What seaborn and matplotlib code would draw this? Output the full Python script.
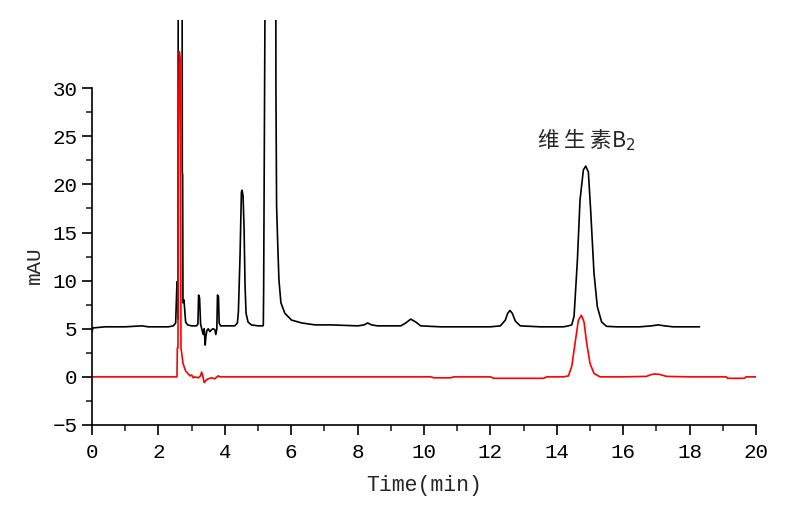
import numpy as np
import pandas as pd
import matplotlib
matplotlib.use("Agg")
import matplotlib.pyplot as plt
import seaborn as sns

# --- data (time in min, signal in mAU) ---
black_t = [0, 0.03, 0.08, 0.4, 1.0, 1.5, 1.7, 2.0, 2.3, 2.45, 2.52, 2.56, 2.58, 2.59,
           2.60, 2.60, 2.71, 2.72, 2.73, 2.74, 2.77, 2.82, 2.88, 3.0, 3.15, 3.19,
           3.21, 3.24, 3.27, 3.32, 3.35, 3.38, 3.41, 3.43, 3.46, 3.5, 3.55, 3.6,
           3.65, 3.7, 3.73, 3.76, 3.78, 3.81, 3.83, 3.87, 3.95, 4.1, 4.3, 4.38,
           4.41, 4.46, 4.5, 4.52, 4.55, 4.58, 4.61, 4.64, 4.7, 4.8, 5.0, 5.15,
           5.16, 5.17, 5.24, 5.53, 5.54, 5.56, 5.60, 5.63, 5.69, 5.81, 6.01, 6.32,
           6.72, 7.2, 8.0, 8.2, 8.3, 8.42, 8.6, 9.3, 9.45, 9.6, 9.75, 9.9, 10.5,
           11.0, 12.0, 12.3, 12.45, 12.52, 12.59, 12.66, 12.75, 12.9, 13.5, 14.2,
           14.35, 14.45, 14.52, 14.62, 14.70, 14.80, 14.87, 14.95, 15.02, 15.12,
           15.22, 15.35, 15.5, 15.8, 16.5, 16.85, 17.05, 17.25, 17.5, 18.3]
black_v = [4.7, 5.1, 5.1, 5.2, 5.2, 5.3, 5.2, 5.2, 5.2, 5.3, 5.6, 9.9, 9.8, 6.0,
           60, 60, 60, 21.2, 21.0, 7.7, 8.0, 5.7, 5.4, 5.3, 5.3, 5.5,
           8.5, 8.2, 5.5, 4.8, 4.4, 5.0, 3.3, 4.2, 4.8, 5.0, 4.7, 4.9,
           5.0, 4.9, 4.4, 5.0, 8.5, 8.3, 5.6, 5.3, 5.3, 5.3, 5.3, 5.6,
           6.8, 12.7, 19.2, 19.4, 18.8, 15.5, 9.5, 6.6, 5.7, 5.4, 5.3, 5.3,
           5.4, 8.9, 60, 60, 30.0, 17.7, 13.2, 10.1, 7.7, 6.6, 5.9, 5.6,
           5.4, 5.4, 5.3, 5.4, 5.6, 5.4, 5.3, 5.3, 5.6, 6.0, 5.7, 5.3, 5.2,
           5.2, 5.2, 5.3, 5.9, 6.6, 6.9, 6.6, 5.8, 5.3, 5.2, 5.2,
           5.3, 5.4, 6.3, 12.1, 18.4, 21.5, 21.9, 21.3, 17.3, 10.8,
           7.3, 5.7, 5.25, 5.2, 5.2, 5.3, 5.4, 5.3, 5.2, 5.2]

red_t = [0, 1.0, 2.0, 2.56, 2.57, 2.59, 2.60, 2.63, 2.66, 2.68, 2.70, 2.74, 2.82,
         2.9, 2.95, 3.0, 3.05, 3.1, 3.2, 3.27, 3.3, 3.33, 3.36, 3.38, 3.42,
         3.5, 3.6, 3.7, 3.8, 3.85, 3.9, 5.0, 8.0, 10.2, 10.3, 10.8, 10.9,
         12.0, 12.1, 13.6, 13.7, 14.2, 14.35, 14.45, 14.55, 14.65, 14.74, 14.82,
         14.90, 15.0, 15.12, 15.3, 16.0, 16.7, 16.85, 16.96, 17.1, 17.3, 18.0,
         19.1, 19.15, 19.65, 19.7, 20.0]
red_v = [0.0, 0.0, 0.0, 0.0, 3.0, 3.0, 24.0, 33.8, 33.0, 3.0, 2.5, 1.4, 0.6,
         0.3, 0.1, 0.2, -0.1, 0.0, -0.1, 0.1, 0.5, 0.2, -0.3, -0.6, -0.4,
         -0.2, -0.1, -0.2, 0.1, 0.0, 0.0, 0.0, 0.0, 0.0, -0.1, -0.1, 0.0,
         0.0, -0.15, -0.15, 0.0, 0.0, 0.1, 1.1, 3.5, 5.9, 6.4, 5.7,
         3.5, 1.4, 0.35, 0.0, 0.0, 0.05, 0.25, 0.3, 0.25, 0.05, 0.0,
         0.0, -0.15, -0.15, 0.0, 0.0]

black_df = pd.DataFrame({"Time": black_t, "mAU": black_v})
red_df = pd.DataFrame({"Time": red_t, "mAU": red_v})

sns.set_style("ticks")
plt.rcParams["font.family"] = ["Liberation Mono", "DejaVu Sans"]

fig = plt.figure(figsize=(8, 5.16), dpi=100)
ax = fig.add_axes([0.115, 0.1764, 0.83, 0.7846])

sns.lineplot(data=black_df, x="Time", y="mAU", estimator=None, sort=False,
             color="black", lw=1.2, ax=ax)
sns.lineplot(data=red_df, x="Time", y="mAU", estimator=None, sort=False,
             color="red", lw=1.2, ax=ax)

ax.set_xlim(0, 20)
ax.set_ylim(-5, 37.07)
ax.set_xticks(np.arange(0, 21, 2))
ax.set_xticks(np.arange(1, 20, 2), minor=True)
ax.set_yticks(np.arange(-5, 31, 5))
ax.set_yticks(np.arange(-2.5, 30, 5), minor=True)
ax.spines["left"].set_bounds(-5, 30)
ax.spines["top"].set_visible(False)
ax.spines["right"].set_visible(False)
for s in ("left", "bottom"):
    ax.spines[s].set_linewidth(1.2)
    ax.spines[s].set_color("black")
ax.tick_params(which="major", length=7, width=1.2, labelsize=15, colors="black")
ax.tick_params(which="minor", length=4, width=1.2)
ax.tick_params(axis="x", pad=6)

ax.set_xlabel("Time(min)", fontsize=15.5, labelpad=9)
ax.set_ylabel("mAU", fontsize=15)
ax.yaxis.set_label_coords(-0.072, 0.395)

# peak label with a dropped subscript
ax.text(14.88, 24.6, "维 生 素B$_2$", fontsize=15.5, ha="center", va="center",
        family=["Noto Sans CJK SC", "DejaVu Sans"])

fig.savefig("out.png", dpi=100)
